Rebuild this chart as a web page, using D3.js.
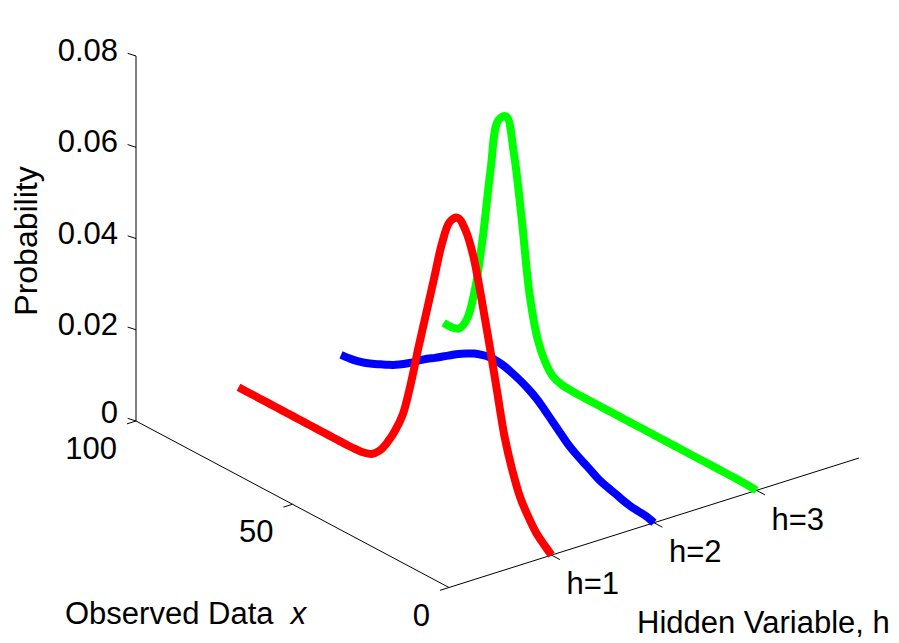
<!DOCTYPE html>
<html>
<head>
<meta charset="utf-8">
<script src="https://cdn.jsdelivr.net/npm/d3@7/dist/d3.min.js"></script>
<style>
  html, body { margin: 0; padding: 0; background: #fff; }
  svg { display: block; }
  text { font-family: "Liberation Sans", Arial, Helvetica, sans-serif; fill: #000; }
</style>
</head>
<body>
<svg id="chart" width="899" height="643"></svg>
<script>
// Sample positions along the observed-data axis
const xGrid = [0, 2.5, 5, 7.5, 10, 12.5, 15, 17.5, 20, 22.5, 25, 27.5, 30, 32.5, 35, 37.5, 40,
  42.5, 45, 47.5, 50, 52.5, 55, 57.5, 60, 62.5, 65, 67.5, 70, 72.5, 75, 77.5, 80,
  82.5, 85, 87.5, 90, 92.5, 95, 97.5, 100];

// P(x | h) for each hidden state
const probH1 = [0.0000, 0.0015, 0.0032, 0.0058, 0.0090, 0.0140, 0.0205, 0.0300, 0.0395, 0.0485,
  0.0565, 0.0612, 0.0630, 0.0612, 0.0555, 0.0470, 0.0385, 0.0300, 0.0210, 0.0135,
  0.0090, 0.0055, 0.0028, 0.0012, 0.0006, 0.0004, 0.0003, 0.0003, 0.0003, 0.0003,
  0.0003, 0.0003, 0.0003, 0.0003, 0.0003, 0.0003, 0.0003, 0.0003, 0.0003, 0.0003, 0.0003];
const probH2 = [0.0000, 0.0005, 0.0007, 0.0009, 0.0013, 0.0019, 0.0024, 0.0030, 0.0040, 0.0050,
  0.0060, 0.0072, 0.0088, 0.0104, 0.0120, 0.0135, 0.0146, 0.0155, 0.0162, 0.0168,
  0.0171, 0.0171, 0.0167, 0.0161, 0.0152, 0.0142, 0.0130, 0.0118, 0.0106, 0.0095,
  0.0082, 0.0068, 0.0056, 0.0045, 0.0036, 0.0028, 0.0020, 0.0013, 0.0008, 0.0005, 0.0003];
const probH3 = [0.0000, 0.0001, 0.0002, 0.0002, 0.0002, 0.0002, 0.0002, 0.0002, 0.0002, 0.0002,
  0.0002, 0.0002, 0.0002, 0.0002, 0.0002, 0.0002, 0.0002, 0.0002, 0.0002, 0.0002,
  0.0002, 0.0002, 0.0002, 0.0002, 0.0003, 0.0005, 0.0012, 0.0035, 0.0078, 0.0165,
  0.0320, 0.0455, 0.0528, 0.0510, 0.0390, 0.0232, 0.0110, 0.0038, 0.0008, 0.0002, 0.0002];

const hiddenStates = [1, 2, 3];
const seriesColors = ["#ff0000", "#0000ff", "#00ff00"];

const xTicks = [0, 50, 100];
const hTicks = [1, 2, 3];
const hTickLabels = ["h=1", "h=2", "h=3"];
const zTicks = [0, 0.02, 0.04, 0.06, 0.08];
const zTickLabels = ["0", "0.02", "0.04", "0.06", "0.08"];

// ---- 3-D orthographic projection built from linear scales ----
const origin = [449, 587.5];            // screen point of x=0, h=0, z=0
const xVec = [-313, -166.5];            // screen span of the full x axis
const hVec = [410, -129.5];             // screen span of the full h axis

const xS = d3.scaleLinear().domain([0, 100]).range([0, 1]);
const hS = d3.scaleLinear().domain([0, 4]).range([0, 1]);
const zS = d3.scaleLinear().domain([0, 0.08]).range([0, -365]);

function proj(x, h, z) {
  const fx = xS(x), fh = hS(h);
  return [origin[0] + fx * xVec[0] + fh * hVec[0],
          origin[1] + fx * xVec[1] + fh * hVec[1] + zS(z)];
}

function unit(v) { const l = Math.hypot(v[0], v[1]); return [v[0] / l, v[1] / l]; }
const xDir = unit(xVec), hDir = unit(hVec);
const tickLen = 9.5;
const fontSize = 31;

const svg = d3.select("#chart");
const axes = svg.append("g").attr("stroke", "#000").attr("stroke-width", 1).attr("fill", "none");

// axis lines
const xBack = proj(100, 0, 0);
const zTop = proj(100, 0, 0.08);
const hEnd = proj(0, 4, 0);
axes.append("line").attr("x1", xBack[0]).attr("y1", xBack[1]).attr("x2", zTop[0]).attr("y2", zTop[1]);
axes.append("line").attr("x1", xBack[0]).attr("y1", xBack[1]).attr("x2", origin[0]).attr("y2", origin[1]);
axes.append("line").attr("x1", origin[0]).attr("y1", origin[1]).attr("x2", hEnd[0]).attr("y2", hEnd[1]);

// z ticks (point outward along +x); the bottom label sits a little higher to clear the x labels
zTicks.forEach((z, i) => {
  const p = proj(100, 0, z);
  axes.append("line").attr("x1", p[0]).attr("y1", p[1])
    .attr("x2", p[0] + xDir[0] * tickLen).attr("y2", p[1] + xDir[1] * tickLen * 0.6);
  svg.append("text").attr("x", 118).attr("y", p[1] - (z === 0 ? 9 : 6)).attr("dy", "0.36em")
    .attr("text-anchor", "end").attr("font-size", fontSize).text(zTickLabels[i]);
});

// x ticks (point along -h)
xTicks.forEach(x => {
  const p = proj(x, 0, 0);
  axes.append("line").attr("x1", p[0]).attr("y1", p[1])
    .attr("x2", p[0] - hDir[0] * tickLen).attr("y2", p[1] - hDir[1] * tickLen);
  svg.append("text").attr("x", p[0] - 19).attr("y", p[1] + 27).attr("dy", "0.36em")
    .attr("text-anchor", "end").attr("font-size", fontSize).text(x);
});

// h ticks (point along -x)
hTicks.forEach((h, i) => {
  const p = proj(0, h, 0);
  axes.append("line").attr("x1", p[0]).attr("y1", p[1])
    .attr("x2", p[0] - xDir[0] * tickLen).attr("y2", p[1] - xDir[1] * tickLen);
  svg.append("text").attr("x", p[0] + 15).attr("y", p[1] + 28).attr("dy", "0.36em")
    .attr("text-anchor", "start").attr("font-size", fontSize).text(hTickLabels[i]);
});

// axis titles
svg.append("text").attr("transform", "translate(37,241) rotate(-90)")
  .attr("text-anchor", "middle").attr("font-size", fontSize + 1).text("Probability");
const xTitle = svg.append("text").attr("x", 65).attr("y", 624).attr("font-size", fontSize)
  .attr("xml:space", "preserve");
xTitle.append("tspan").text("Observed Data  ");
xTitle.append("tspan").attr("font-style", "italic").text("x");
svg.append("text").attr("x", 637).attr("y", 633).attr("font-size", fontSize).text("Hidden Variable, h");

// curves: one per hidden state, drawn at fixed h across x
const seriesValues = [probH1, probH2, probH3];
const line = d3.line()
  .x(d => proj(d.x, d.h, d.z)[0])
  .y(d => proj(d.x, d.h, d.z)[1])
  .curve(d3.curveCatmullRom.alpha(0.5));

const drawOrder = [2, 1, 0];  // red drawn last, on top
drawOrder.forEach(k => {
  const pts = xGrid.map((x, i) => ({ x, h: hiddenStates[k], z: seriesValues[k][i] }));
  svg.append("path").datum(pts)
    .attr("d", line)
    .attr("fill", "none")
    .attr("stroke", seriesColors[k])
    .attr("stroke-width", 8)
    .attr("stroke-linejoin", "round")
    .attr("stroke-linecap", "butt");
});
</script>
</body>
</html>
